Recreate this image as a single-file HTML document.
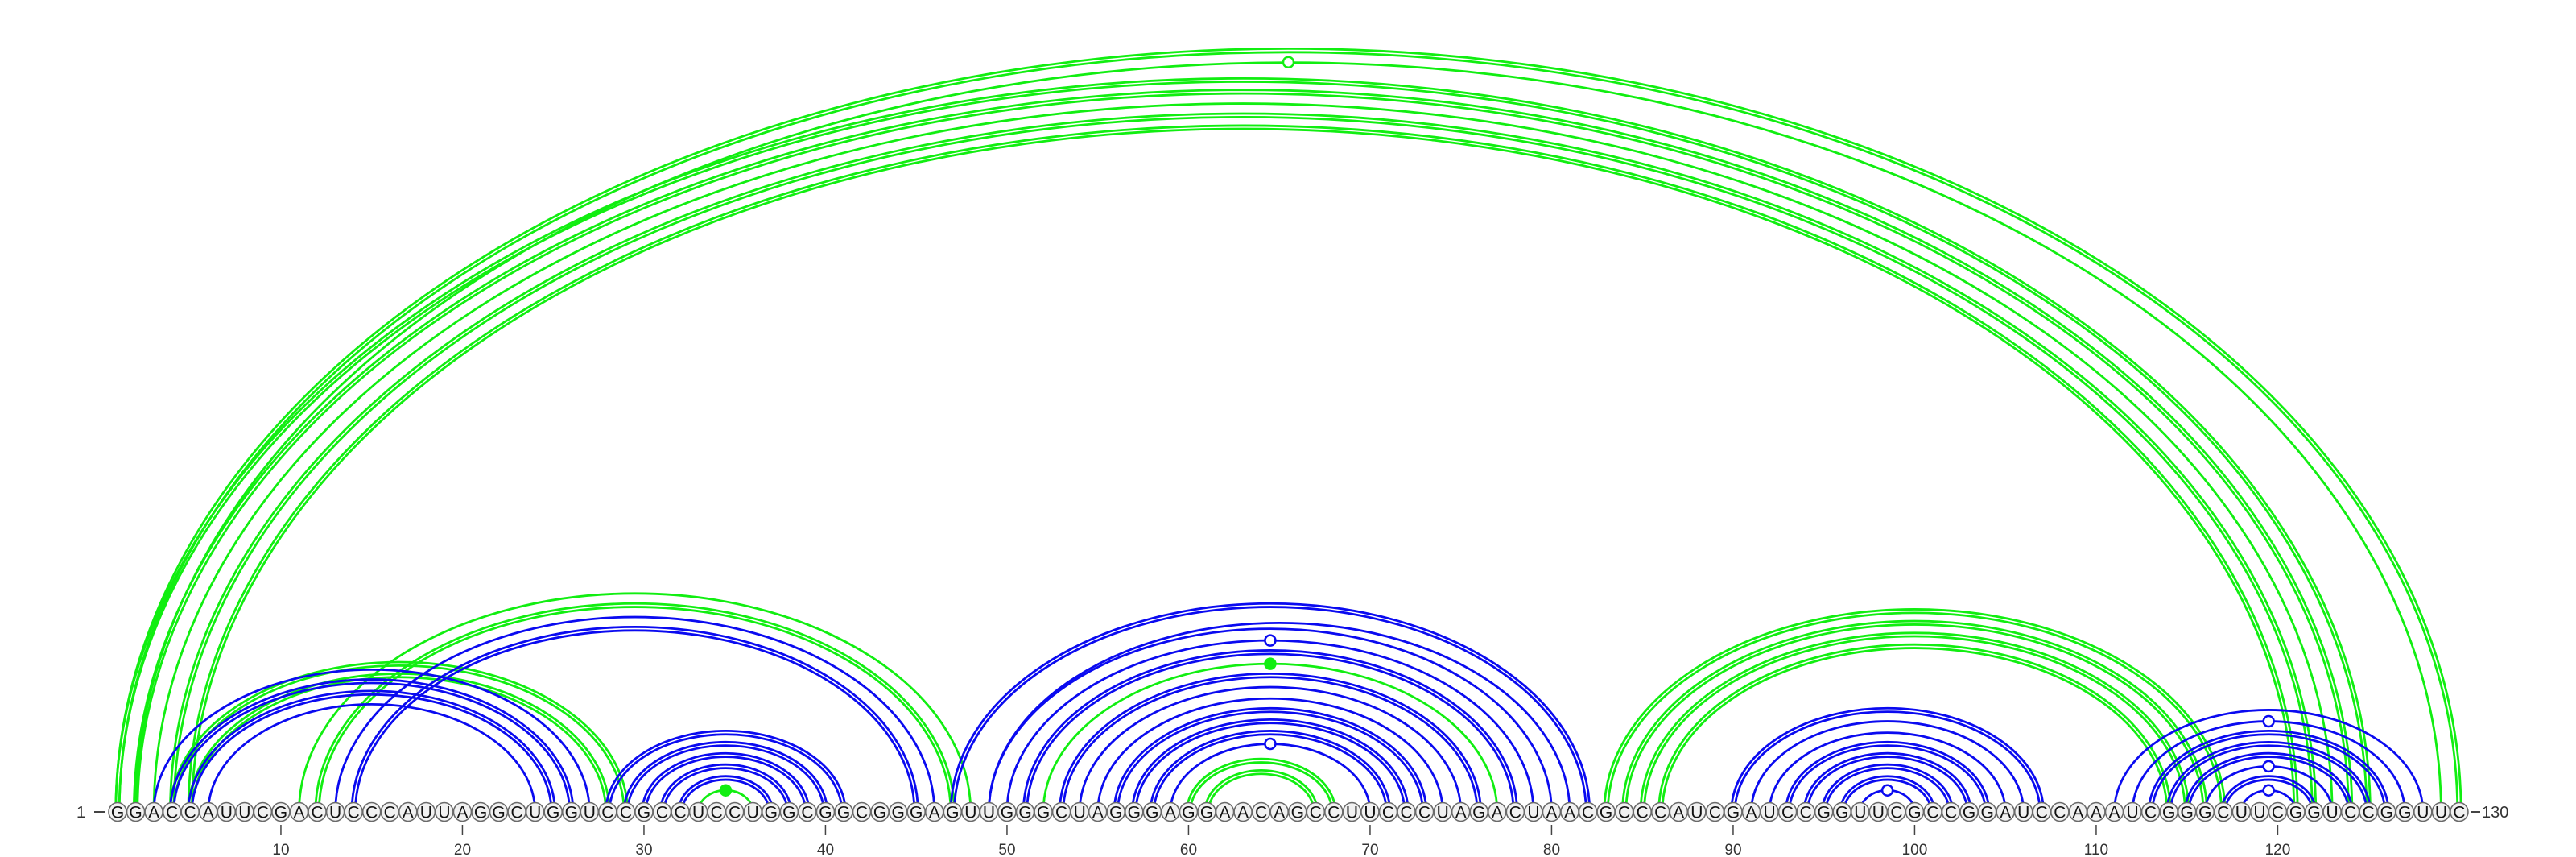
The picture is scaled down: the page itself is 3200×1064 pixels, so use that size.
<!DOCTYPE html>
<html><head><meta charset="utf-8">
<style>
html,body{margin:0;padding:0;background:#fff;}
svg{display:block;}
text{font-family:"Liberation Sans",sans-serif;}
</style></head>
<body>
<svg id="chart" width="3200" height="1064" viewBox="0 0 3200 1064" xmlns="http://www.w3.org/2000/svg">
<g id="arcs"></g>
<g id="bases"></g>
<g id="marks"></g>
<g id="axis"></g>
</svg>
<script>
const sequence = "GGACCAUUCGACUCCCAUUAGGCUGGUCCGCCUCCUGGCGGCGGGAGUUGGGCUAGGGAGGAACAGCCUUCCCUAGACUAACGCCCAUCGAUCCGGUUCGCCGGAUCCAAAUCGGGCUUCGGUCCGGUUC";
const blueStart = [3,4,5,6,13,14,28,29,30,31,32,47,49,49,50,51,53,54,55,56,57,58,59,90,91,92,93,94,95,96,97,111,112,113,114,115,116,117,118];
const blueEnd   = [27,26,25,24,46,45,41,40,39,38,37,82,81,80,79,78,76,75,74,73,72,71,70,107,106,105,104,103,102,101,100,128,127,126,125,124,123,122,121];
const blueMult  = [1,2,2,1,1,2,2,2,2,2,2,2,1,1,1,2,2,1,1,2,2,2,1,2,1,1,2,2,2,2,1,1,1,2,2,2,1,2,1];
const greenStart = [1,2,1,2,3,4,5,4,5,11,12,33,52,60,61,83,84,85,86];
const greenEnd   = [130,129,125,124,123,122,121,29,28,48,47,36,77,68,67,117,116,115,114];
const greenMult  = [2,1,2,2,1,2,2,2,2,1,2,1,1,2,2,2,2,2,2];
const markerStart  = [2,33,52,50,59,97,112,116,118];
const markerEnd    = [129,36,77,79,70,100,127,123,121];
const markerColor  = ["green","green","green","blue","blue","blue","blue","blue","blue"];
const markerFilled = [0,1,1,0,0,0,0,0,0];
const tickValues = [10,20,30,40,50,60,70,80,90,100,110,120];

const NS="http://www.w3.org/2000/svg";
const X0=146, DX=22.55, BY=1008;
function xs(i){return X0+(i-1)*DX;}
function ratio(half){return 0.65+0.25*Math.exp(-half/60);}
function arcH(i,j){const half=(xs(j)-xs(i))/2;return half*ratio(half);}
const COL={blue:"#0a0af0",green:"#11ee11"};
const arcsG=document.getElementById('arcs');
function drawArc(i,j,color,off,name){
  const x1=xs(i)-off,x2=xs(j)+off;
  const rx=(x2-x1)/2, ry=arcH(i,j)+off;
  const p=document.createElementNS(NS,'path');
  p.setAttribute('d',`M${x1},${BY} A${rx},${ry} 0 0 1 ${x2},${BY}`);
  p.setAttribute('fill','none');p.setAttribute('stroke',color);p.setAttribute('stroke-width','2.8');
  
  
  arcsG.appendChild(p);
}
function drawSet(st,en,mu,color,label){
  for(let k=0;k<st.length;k++){
    if(mu[k]===2){drawArc(st[k],en[k],color,-2.2,label+'-arc-'+st[k]+'-'+en[k]);drawArc(st[k],en[k],color,2.2,label+'-arc-'+st[k]+'-'+en[k]);}
    else drawArc(st[k],en[k],color,0,label+'-arc-'+st[k]+'-'+en[k]);
  }
}
drawSet(greenStart,greenEnd,greenMult,COL.green,'green');
drawSet(blueStart,blueEnd,blueMult,COL.blue,'blue');

const basesG=document.getElementById('bases');
for(let i=1;i<=sequence.length;i++){
  const g=document.createElementNS(NS,'g');
  
  
  const c=document.createElementNS(NS,'ellipse');
  c.setAttribute('cx',xs(i));c.setAttribute('cy',BY);c.setAttribute('rx',11);c.setAttribute('ry',11.5);
  c.setAttribute('fill','#f1f1f1');c.setAttribute('stroke','#6a6a6a');c.setAttribute('stroke-width','1.6');
  g.appendChild(c);
  const t=document.createElementNS(NS,'text');
  t.setAttribute('x',xs(i));t.setAttribute('y',BY+7.5);t.setAttribute('text-anchor','middle');
  t.setAttribute('font-size','21');t.setAttribute('fill','#111');
  t.textContent=sequence[i-1];
  g.appendChild(t);
  basesG.appendChild(g);
}

const marksG=document.getElementById('marks');
for(let k=0;k<markerStart.length;k++){
  const i=markerStart[k],j=markerEnd[k];
  const cx=(xs(i)+xs(j))/2, cy=BY-arcH(i,j);
  const c=document.createElementNS(NS,'circle');
  c.setAttribute('cx',cx);c.setAttribute('cy',cy);c.setAttribute('r',6.5);
  const col=COL[markerColor[k]];
  c.setAttribute('fill',markerFilled[k]?col:'#fff');c.setAttribute('stroke',col);c.setAttribute('stroke-width','2.5');
  
  
  marksG.appendChild(c);
}

const axisG=document.getElementById('axis');
for(const v of tickValues){
  const l=document.createElementNS(NS,'line');
  l.setAttribute('x1',xs(v));l.setAttribute('x2',xs(v));l.setAttribute('y1',1024);l.setAttribute('y2',1037);
  l.setAttribute('stroke','#444');l.setAttribute('stroke-width','1.5');
  
  
  axisG.appendChild(l);
  const t=document.createElementNS(NS,'text');
  t.setAttribute('x',xs(v));t.setAttribute('y',1061);t.setAttribute('text-anchor','middle');
  t.setAttribute('font-size','19');t.setAttribute('fill','#333');
  t.textContent=v;
  
  
  axisG.appendChild(t);
}
</script>
<svg width="0" height="0" style="position:absolute"></svg>
<div style="position:absolute;left:0;top:0;width:3200px;height:1064px;pointer-events:none">
<svg width="3200" height="1064" style="position:absolute;left:0;top:0">
<text x="95" y="1015" font-size="20" fill="#333" font-family="Liberation Sans, sans-serif">1</text>
<line x1="117" y1="1008" x2="131" y2="1008" stroke="#444" stroke-width="2"/>
<line x1="3069" y1="1008" x2="3081" y2="1008" stroke="#444" stroke-width="2"/>
<text x="3083" y="1015" font-size="20" fill="#333" font-family="Liberation Sans, sans-serif">130</text>
</svg>
</div>
</body></html>
